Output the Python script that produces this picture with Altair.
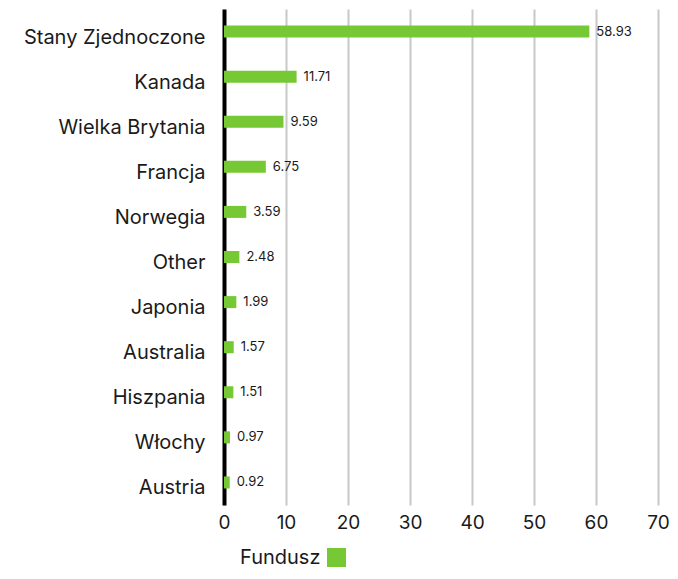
import altair as alt
import pandas as pd

countries = ["Stany Zjednoczone", "Kanada", "Wielka Brytania", "Francja", "Norwegia",
             "Other", "Japonia", "Australia", "Hiszpania", "Włochy", "Austria"]
values = [58.93, 11.71, 9.59, 6.75, 3.59, 2.48, 1.99, 1.57, 1.51, 0.97, 0.92]
series = "Fundusz"
x_ticks = [0, 10, 20, 30, 40, 50, 60, 70]

df = pd.DataFrame({"country": countries, "value": values, "series": [series] * len(values)})
df["label"] = [f"{v:.2f}" for v in values]

FONT = "Inter"
GREEN = "#76c934"

y_enc = alt.Y("country:N", sort=countries, title=None,
              scale=alt.Scale(paddingInner=0.0, paddingOuter=0.0),
              axis=alt.Axis(domainColor="#000000", domainWidth=4, ticks=False,
                            labelFontSize=20, labelFont=FONT, labelColor="#1a1a1a",
                            labelPadding=19, labelOffset=6, labelLimit=300, grid=False))
x_enc = alt.X("value:Q", title=None,
              scale=alt.Scale(domain=[0, 70], nice=False),
              axis=alt.Axis(values=x_ticks, domain=False, ticks=False, grid=True,
                            gridColor="#c8c8c8", gridWidth=2,
                            labelFontSize=19, labelFont=FONT, labelColor="#1a1a1a",
                            labelPadding=8, labelFlush=False))

bars = alt.Chart(df).mark_bar(size=12).encode(
    x=x_enc, y=y_enc,
    color=alt.Color("series:N", scale=alt.Scale(range=[GREEN]),
                    legend=alt.Legend(title="Fundusz", titleOrient="left", orient="none",
                                      legendX=16, legendY=539, labelExpr="''",
                                      symbolType="square", symbolSize=361,
                                      symbolStrokeWidth=0, symbolFillColor=GREEN,
                                      titleFont=FONT, titleFontSize=20, titleFontWeight="normal",
                                      titleColor="#1a1a1a", titlePadding=6))
)
labels = alt.Chart(df).mark_text(align="left", dx=7, fontSize=13, font=FONT, color="#1a1a1a").encode(
    x="value:Q", y=alt.Y("country:N", sort=countries), text="label:N"
)

chart = (bars + labels).properties(
    width=434, height=496,
    autosize=alt.AutoSizeParams(type="none"),
    padding={"left": 216, "top": 1, "right": 12, "bottom": 66},
).configure_view(stroke=None)

chart.save("out.html", embed_options={"renderer": "svg", "actions": False})
